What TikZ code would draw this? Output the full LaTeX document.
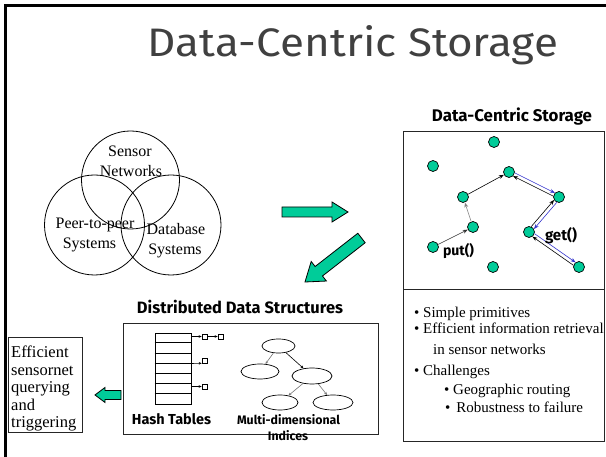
\documentclass[tikz,border=0pt]{standalone}
\usepackage{fontspec}
\usepackage{graphicx}
\setmainfont{Liberation Serif}
\newfontfamily\casualfont{Fira Sans}
\usetikzlibrary{arrows.meta,calc,shapes.geometric}

\definecolor{sgreen}{HTML}{00CC99}
\definecolor{titlegray}{HTML}{404040}
\definecolor{replyblue}{HTML}{3333CC}

% text squeezed or stretched to a given width
\newcommand{\fitto}[2]{\resizebox{#1}{!}{#2}}

% block arrow: tail, tip, shaft half width, head half width, head length
\newcommand{\blockarrow}[5]{%
  \draw[greenarrow]
    ($(#1)!#3!90:(#2)$)
    -- ($(#2)!#5!(#1)!#3!-90:(#1)$)
    -- ($(#2)!#5!(#1)!#4!-90:(#1)$)
    -- (#2)
    -- ($(#2)!#5!(#1)!#4!90:(#1)$)
    -- ($(#2)!#5!(#1)!#3!90:(#1)$)
    -- ($(#1)!#3!-90:(#2)$) -- cycle;}

% one lane of a two-way link between dots: style, from, to
\newcommand{\lane}[3]{%
  \draw[#1] ($(#2)!5.5pt!(#3)!1.8pt!90:(#3)$) -- ($(#3)!5.5pt!(#2)!1.8pt!-90:(#2)$);}

\begin{document}
\begin{tikzpicture}[x=1pt,y=-1pt,
  frame/.style={line width=2.5pt, black, line join=miter},
  panel/.style={draw=black!85, line width=0.9pt},
  venn/.style={draw=black, circle, line width=0.8pt, inner sep=0pt},
  serif/.style={font=\fontsize{16}{17.5}\selectfont, inner sep=0pt},
  bul/.style={font=\fontsize{15}{18}\selectfont, anchor=base west, inner sep=0pt},
  casual/.style={font=\casualfont, inner sep=0pt, anchor=base},
  casualb/.style={font=\casualfont\bfseries, inner sep=0pt, anchor=base},
  dot/.style={circle, draw=black, fill=sgreen, minimum size=11pt, inner sep=0pt, line width=0.7pt},
  hop/.style={-{Stealth[length=5pt,width=3.8pt]}, line width=0.6pt},
  darkhop/.style={hop, black},
  grayhop/.style={hop, black!50},
  bluehop/.style={hop, replyblue},
  greenarrow/.style={draw=black, fill=sgreen, line width=0.8pt, line join=miter},
  slot/.style={draw=black, minimum size=5pt, inner sep=0pt, line width=0.6pt},
  tinyhop/.style={-{Stealth[length=3pt,width=2.6pt]}, line width=0.6pt},
  treenode/.style={draw=black, ellipse, inner sep=0pt, line width=0.7pt},
]
\useasboundingbox (0,0) rectangle (606,457);

% slide frame (left and top edges)
\draw[frame] (5.5,457) -- (5.5,5.5) -- (606,5.5);

% title
\node[casual, text=titlegray] (title) at (353,57) {\resizebox{410pt}{31pt}{Data-Centric Storage}};

% ---------- Venn diagram ----------
\node[venn, minimum size=98pt] (csn) at (130.5,180) {};
\node[venn, minimum size=100pt] (cp2p) at (94.5,225) {};
\node[venn, minimum size=100pt] (cdb) at (171,225) {};
\node[serif, anchor=base] (vt1) at (130,157) {Sensor};
\node[serif, anchor=base] (vt2) at (131,177) {Networks};
\node[serif, anchor=base] (vt3) at (95,229) {Peer-to-peer};
\node[serif, anchor=base] (vt4) at (89.5,249) {Systems};
\node[serif, anchor=base] (vt5) at (176,235) {Database};
\node[serif, anchor=base] (vt6) at (175,255) {Systems};

% ---------- big green arrows ----------
\coordinate (ra1) at (282,212);
\coordinate (ra2) at (348,212);
\blockarrow{ra1}{ra2}{5pt}{10pt}{16pt}
\coordinate (da1) at (361.5,238);
\coordinate (da2) at (305,282);
\blockarrow{da1}{da2}{6pt}{12.4pt}{17.5pt}
\coordinate (la1) at (121,395);
\coordinate (la2) at (95,395);
\blockarrow{la1}{la2}{4.5pt}{7.5pt}{10pt}

% ---------- data-centric storage panel ----------
\node[casualb] (dcslabel) at (512,122) {\fitto{160pt}{Data-Centric Storage}};
\draw[panel] (403,131) rectangle (604,289);

\node[dot] (d1) at (494,142) {};
\node[dot] (d2) at (433,166) {};
\node[dot] (d3) at (509,172) {};
\node[dot] (d4) at (463,197) {};
\node[dot] (d5) at (559,197) {};
\node[dot] (d6) at (473,227) {};
\node[dot] (d7) at (529,232) {};
\node[dot] (d8) at (433,247) {};
\node[dot] (d9) at (493,267) {};
\node[dot] (d10) at (579,267) {};

% put(): towards the home node
\draw[darkhop, black!80] (d8) -- (d6);
\draw[grayhop] (d6) -- (d4);
\draw[darkhop] (d4) -- (d3);

% get(): query out in black, reply back in blue
\lane{darkhop}{d10}{d7}
\lane{darkhop}{d7}{d5}
\lane{darkhop}{d5}{d3}
\lane{bluehop}{d3}{d5}
\lane{bluehop}{d5}{d7}
\lane{bluehop}{d7}{d10}

\node[casualb] (putlbl) at (458.5,256) {\fitto{31pt}{put()}};
\node[casualb] (getlbl) at (561,241) {\fitto{32pt}{get()}};

% ---------- bullet panel ----------
\draw[panel] (403,289) rectangle (604,441);
\node[bul] (b1) at (414,318) {\textbullet\ Simple primitives};
\node[bul] (b2) at (414,334) {\textbullet\ Efficient information retrieval};
\node[bul] (b3) at (433,355) {in sensor networks};
\node[bul] (b4) at (414,376) {\textbullet\ Challenges};
\node[bul] (b5) at (444,395) {\textbullet\ Geographic routing};
\node[bul] (b6) at (445,413) {\textbullet\hspace{6pt}Robustness to failure};

% ---------- distributed data structures panel ----------
\node[casualb] (ddslabel) at (240,314) {\fitto{206pt}{Distributed Data Structures}};
\draw[panel] (123,323) rectangle (378,434);

% hash table with chained buckets
\node[draw=black, line width=0.7pt, minimum width=36pt, minimum height=71pt, inner sep=0pt] (htab) at (173,368.5) {};
\foreach \r in {1,...,6}
  \draw[line width=0.7pt] ($(htab.north west)+(0,\r*71/7)$) -- ($(htab.north east)+(0,\r*71/7)$);
\node[slot] (s1) at (204.5,336.5) {};
\node[slot] (s2) at (220.5,336.5) {};
\node[slot] (s3) at (204.5,360.5) {};
\node[slot] (s4) at (204.5,386.5) {};
\draw[tinyhop] (s1 -| htab.east) -- (s1);
\draw[tinyhop] (s1) -- (s2);
\coordinate (r3) at (191,363.5);
\draw[tinyhop] (r3) -- (s3.south west);
\draw[tinyhop] (s4 -| htab.east) -- (s4);

% multi-dimensional index tree
\node[treenode, minimum width=33pt, minimum height=14pt] (e1) at (278.5,346) {};
\node[treenode, minimum width=38pt, minimum height=15pt] (e2) at (260,371.5) {};
\node[treenode, minimum width=40pt, minimum height=16pt] (e3) at (312,376) {};
\node[treenode, minimum width=36pt, minimum height=15pt] (e4) at (280,402.5) {};
\node[treenode, minimum width=40pt, minimum height=15pt] (e5) at (333,402.5) {};
\draw[tinyhop, black!55] (e1) -- (e2);
\draw[tinyhop] (e1) -- (e3);
\draw[tinyhop, black!55] (e3) -- (e4);
\draw[tinyhop, black!55] (e3) -- (e5);

\node[casualb] (htlbl) at (171.5,425) {\fitto{79pt}{Hash Tables}};
\node[casualb] (mdlbl) at (288.5,425) {\fitto{103pt}{Multi-dimensional}};
\node[casualb] (idxlbl) at (288,441) {\fitto{40pt}{Indices}};

% ---------- application box ----------
\draw[panel] (8,337) rectangle (82,432);
\node[serif, font=\fontsize{16.5}{17.5}\selectfont, anchor=north west, align=left] (apptext) at (11,346)
  {Efficient\\sensornet\\querying\\and\\triggering};
\end{tikzpicture}
\end{document}
